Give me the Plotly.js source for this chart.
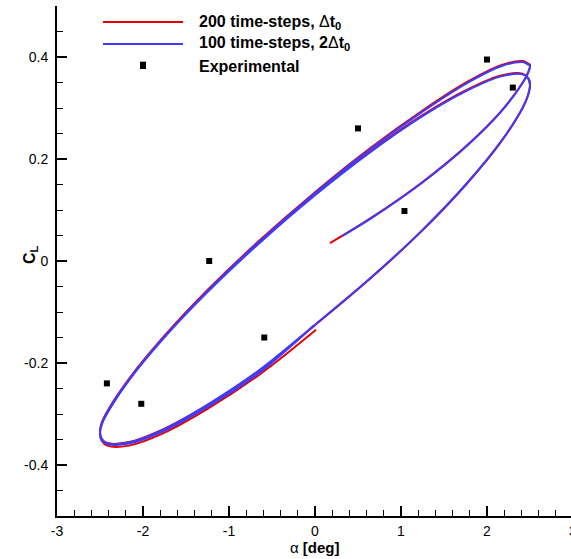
<!DOCTYPE html>
<html><head><meta charset="utf-8">
<script src="https://cdn.plot.ly/plotly-3.0.1.min.js"></script>
<style>html,body{margin:0;padding:0;overflow:hidden;background:#fff}#chart{width:573px;height:559px}</style>
</head><body><div id="chart"></div><script>
// 200 time-steps, dt0
const redAlpha = [0.174,0.647,1.250,1.768,2.165,2.415,2.478,2.500,2.478,2.415,2.165,1.768,1.250,0.647,0.000,-0.647,-1.250,-1.768,-2.150,-2.400,-2.478,-2.500,-2.478,-2.415,-2.165,-1.768,-1.250,-0.647,0.000,0.647,1.250,1.768,2.165,2.415,2.478,2.500,2.478,2.415,2.165,1.768,1.250,0.647,0.000,-0.647,-1.250,-1.768,-2.150,-2.400,-2.478,-2.500,-2.478,-2.415,-2.165,-1.768,-1.250,-0.647,0.012];
const redCL    = [0.035,0.084,0.155,0.227,0.294,0.350,0.370,0.385,0.387,0.392,0.384,0.351,0.295,0.222,0.135,0.040,-0.057,-0.150,-0.228,-0.290,-0.316,-0.335,-0.349,-0.357,-0.355,-0.330,-0.282,-0.215,-0.126,-0.034,0.060,0.152,0.234,0.300,0.325,0.345,0.359,0.367,0.364,0.336,0.286,0.216,0.131,0.037,-0.059,-0.151,-0.229,-0.292,-0.318,-0.338,-0.353,-0.362,-0.362,-0.338,-0.290,-0.223,-0.135];
// 100 time-steps, 2dt0
const blueAlpha = [0.314,0.647,1.250,1.768,2.165,2.415,2.478,2.500,2.478,2.415,2.165,1.768,1.250,0.647,0.000,-0.647,-1.250,-1.768,-2.150,-2.400,-2.478,-2.500,-2.478,-2.415,-2.165,-1.768,-1.250,-0.647,0.000,0.647,1.250,1.768,2.165,2.415,2.478,2.500,2.478,2.415,2.165,1.768,1.250,0.647,0.000,-0.647,-1.250,-1.768,-2.150,-2.400,-2.478,-2.500,-2.478,-2.415,-2.165,-1.768,-1.250,-0.647,-0.020];
const blueCL    = [0.049,0.083,0.154,0.226,0.293,0.349,0.369,0.383,0.385,0.390,0.382,0.349,0.293,0.220,0.133,0.038,-0.059,-0.152,-0.230,-0.292,-0.318,-0.337,-0.350,-0.358,-0.356,-0.331,-0.282,-0.214,-0.125,-0.033,0.061,0.153,0.235,0.301,0.326,0.346,0.358,0.366,0.362,0.334,0.284,0.214,0.129,0.035,-0.061,-0.153,-0.231,-0.294,-0.320,-0.340,-0.352,-0.359,-0.358,-0.334,-0.286,-0.219,-0.127];
// Experimental
const expAlpha = [-2.00,2.00,2.30,0.50,1.04,-1.23,-0.59,-2.42,-2.02];
const expCL    = [0.385,0.395,0.340,0.260,0.098,0.000,-0.150,-0.240,-0.280];

const xTickVals = [-3,-2,-1,0,1,2,3];
const xTickText = ['-3','-2','-1','0','1','2','3'];
const xMinorVals = [-2.8,-2.6,-2.4,-2.2,-1.8,-1.6,-1.4,-1.2,-0.8,-0.6,-0.4,-0.2,0.2,0.4,0.6,0.8,1.2,1.4,1.6,1.8,2.2,2.4,2.6,2.8];
const yTickVals = [-0.4,-0.2,0,0.2,0.4];
const yTickText = ['-0.4','-0.2','0','0.2','0.4'];
const yMinorVals = [-0.5,-0.45,-0.35,-0.3,-0.25,-0.15,-0.1,-0.05,0.05,0.1,0.15,0.25,0.3,0.35,0.45,0.5];
const legendNames = ['200 time-steps, ','100 time-steps, 2','Experimental'];

const RED = 'rgb(228,0,0)', BLUE = 'rgb(60,60,255)';
const traces = [
  {x: redAlpha, y: redCL, mode:'lines', line:{color:RED, width:2, shape:'spline', smoothing:1}, name:'red'},
  {x: blueAlpha, y: blueCL, mode:'lines', line:{color:BLUE, width:2, shape:'spline', smoothing:1}, name:'blue'},
  {x: expAlpha, y: expCL, mode:'markers', marker:{symbol:'square', size:6, color:'black'}, name:'exp'}
];

const L=57, T=6, W=516, H=510;
const px = v => (v-L)/W, py = v => (T+H-v)/H;

const axisCommon = {
  ticks:'inside', ticklen:10, tickwidth:1.5, tickcolor:'black',
  showline:true, linecolor:'black', linewidth:2, mirror:false,
  showgrid:false, zeroline:false, fixedrange:true, ticklabeloverflow:'allow',
  tickfont:{size:14, color:'black', family:'Liberation Sans, Arial, sans-serif'}
};
const layout = {
  width:573, height:559,
  margin:{l:L, r:0, t:T, b:559-T-H},
  paper_bgcolor:'white', plot_bgcolor:'white', showlegend:false,
  font:{family:'Liberation Sans, Arial, sans-serif', color:'black', size:14},
  xaxis: Object.assign({}, axisCommon, {range:[-3,3], tickmode:'array', tickvals:xTickVals, ticktext:xTickText,
    ticklabelstandoff:1,
    minor:{tickmode:'array', tickvals:xMinorVals, ticks:'inside', ticklen:6, tickwidth:1, tickcolor:'black', showgrid:false}}),
  yaxis: Object.assign({}, axisCommon, {range:[-0.5,0.5], tickmode:'array', tickvals:yTickVals, ticktext:yTickText,
    ticklabelstandoff:4,
    minor:{tickmode:'array', tickvals:yMinorVals, ticks:'inside', ticklen:6, tickwidth:1, tickcolor:'black', showgrid:false}}),
  shapes:[
    {type:'line', xref:'paper', yref:'paper', x0:px(103), x1:px(183), y0:py(22), y1:py(22), line:{color:RED, width:2}},
    {type:'line', xref:'paper', yref:'paper', x0:px(103), x1:px(183), y0:py(44), y1:py(44), line:{color:BLUE, width:2}},
    {type:'rect', xref:'paper', yref:'paper', xsizemode:'pixel', ysizemode:'pixel', xanchor:px(143), yanchor:py(66),
      x0:-3, x1:3, y0:-3, y1:3, fillcolor:'black', line:{width:0}}
  ],
  annotations:[
    {xref:'paper', yref:'paper', x:px(197), y:py(22), xanchor:'left', yanchor:'middle', showarrow:false,
      text:'<b>'+legendNames[0]+'</b>Δ<b>t<sub>0</sub></b>', font:{size:16}},
    {xref:'paper', yref:'paper', x:px(197), y:py(44), xanchor:'left', yanchor:'middle', showarrow:false,
      text:'<b>'+legendNames[1]+'</b>Δ<b>t<sub>0</sub></b>', font:{size:16}},
    {xref:'paper', yref:'paper', x:px(197), y:py(66), xanchor:'left', yanchor:'middle', showarrow:false,
      text:'<b>'+legendNames[2]+'</b>', font:{size:16}},
    {xref:'paper', yref:'paper', x:px(315), y:py(547), xanchor:'center', yanchor:'middle', showarrow:false,
      text:'α <b>[deg]</b>', font:{size:15}},
    {xref:'paper', yref:'paper', x:px(30), y:py(255), xanchor:'center', yanchor:'middle', showarrow:false, textangle:-90,
      text:'<b>C<sub>L</sub></b>', font:{size:16}}
  ]
};
Plotly.newPlot('chart', traces, layout, {staticPlot:true, displayModeBar:false});
</script></body></html>
